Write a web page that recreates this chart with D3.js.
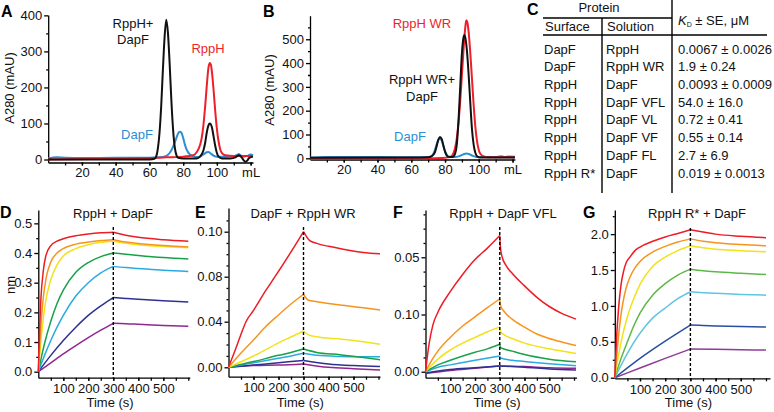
<!DOCTYPE html>
<html lang="en">
<head>
<meta charset="utf-8">
<title>RppH / DapF binding</title>
<script src="https://cdn.jsdelivr.net/npm/d3@7"></script>
<style>
  body { margin: 0; background: #fff; }
  svg { display: block; font-family: "Liberation Sans", Arial, sans-serif; }
  .axis path, .axis line { stroke: #000; stroke-width: 1.3; }
  .axis text { font: 13px "Liberation Sans", Arial, sans-serif; fill: #111; }
  .lbl { font-size: 13px; fill: #111; }
  .letter { font-size: 16px; font-weight: bold; fill: #000; }
</style>
</head>
<body>
<svg id="fig" width="774" height="412"></svg>
<script>
// ---- size exclusion traces (mL, mAU) ----
var aDapF = [[0,3],[5,6],[10,5],[20,4],[40,5],[60,5],[66,6],[70,10],[72,18],[74,35],[76,60],[77,72],[78,77],[79,74],[80,60],[81,42],[82,28],[84,14],[86,9],[88,7],[90,8],[92,14],[94,20],[95,21],[96,18],[98,11],[100,8],[105,8],[110,9],[112,13],[113,15],[114,12],[116,8],[118,10],[120,14],[121.4,12]];
var aRppH = [[0,0],[40,2],[60,4],[70,6],[80,8],[86,12],[88,20],[90,40],[91,60],[92,95],[93,145],[94,205],[95,255],[95.8,268],[96.5,262],[97,245],[98,195],[99,135],[100,85],[101,50],[102,28],[103,18],[105,12],[110,10],[121.4,10]];
var aComplex = [[0,0],[60,0],[63,2],[64,8],[65,30],[66,75],[67,150],[68,250],[69,340],[70,388],[71,350],[72,265],[73,165],[74,85],[75,35],[76,12],[77,5],[80,3],[88,3],[90,8],[92,25],[93,45],[94,75],[95,95],[95.8,100],[97,90],[98,65],[99,38],[100,18],[101,8],[103,3],[108,3],[111,6],[113,12],[115,4],[116,-3],[117,-6],[118,-3],[119,4],[121.4,8]];

var bDapF = [[0,3],[10,6],[20,5],[40,5],[60,4],[70,5],[72,9],[73,18],[74,35],[75,58],[76,76],[77,82],[78,74],[79,52],[80,30],[81,15],[82,8],[84,5],[86,5],[88,8],[90,14],[92,19],[93,20],[94,18],[96,12],[98,7],[100,6],[105,6],[110,5],[113,9],[115,6],[118,8],[121.4,7]];
var bRppHWR = [[0,-2],[70,-1],[78,1],[82,4],[84,10],[85,22],[86,45],[87,85],[88,150],[89,240],[90,350],[91,460],[92,550],[92.6,580],[93.2,572],[94,530],[95,440],[96,330],[97,220],[98,130],[99,70],[100,35],[101,18],[103,8],[106,4],[121.4,4]];
var bComplex = [[0,2],[60,3],[70,4],[72,8],[74,25],[75,50],[76,78],[77,90],[78,82],[79,55],[80,28],[81,12],[82,6],[84,5],[85,8],[86,20],[87,60],[88,160],[89,300],[90,440],[91,510],[91.5,518],[92,508],[93,450],[94,350],[95,230],[96,120],[97,55],[98,22],[99,9],[101,3],[121.4,3]];

// ---- Kd table ----
var tblSurface = ["DapF", "DapF", "RppH", "RppH", "RppH", "RppH", "RppH", "RppH R*"];
var tblSolution = ["RppH", "RppH WR", "DapF", "DapF VFL", "DapF VL", "DapF VF", "DapF FL", "DapF"];
var tblKd = ["0.0067 ± 0.0026", "1.9 ± 0.24", "0.0093 ± 0.0009", "54.0 ± 16.0", "0.72 ± 0.41", "0.55 ± 0.14", "2.7 ± 6.9", "0.019 ± 0.0013"];

// ---- sensorgrams (s, nm), highest concentration first ----
var dRed = [[0,0],[5,0.14],[10,0.24],[20,0.34],[30,0.39],[50,0.425],[75,0.44],[100,0.448],[150,0.458],[200,0.464],[250,0.468],[300,0.47],[350,0.46],[400,0.453],[500,0.445],[600,0.44]];
var dOrange = [[0,0],[10,0.15],[20,0.25],[30,0.31],[50,0.37],[75,0.4],[100,0.415],[150,0.43],[200,0.437],[250,0.442],[300,0.445],[350,0.437],[400,0.432],[500,0.425],[600,0.42]];
var dYellow = [[0,0],[10,0.1],[20,0.18],[30,0.24],[50,0.31],[75,0.36],[100,0.39],[150,0.415],[200,0.428],[250,0.436],[300,0.44],[350,0.433],[400,0.428],[500,0.422],[600,0.418]];
var dGreen = [[0,0],[10,0.04],[25,0.095],[50,0.17],[75,0.23],[100,0.275],[150,0.335],[200,0.368],[250,0.388],[300,0.4],[350,0.396],[400,0.392],[500,0.385],[600,0.38]];
var dCyan = [[0,0],[25,0.055],[50,0.105],[75,0.15],[100,0.19],[150,0.255],[200,0.3],[250,0.333],[300,0.355],[350,0.351],[400,0.348],[500,0.342],[600,0.338]];
var dBlue = [[0,0],[50,0.055],[100,0.105],[150,0.15],[200,0.19],[250,0.222],[300,0.25],[350,0.247],[400,0.244],[500,0.239],[600,0.235]];
var dPurple = [[0,0],[50,0.03],[100,0.06],[150,0.088],[200,0.115],[250,0.14],[300,0.163],[350,0.162],[400,0.16],[500,0.156],[600,0.153]];

var eRed = [[0,0],[25,0.014],[50,0.029],[70,0.04],[100,0.05],[150,0.068],[186,0.08],[250,0.091],[300,0.1],[325,0.096],[353,0.0948],[400,0.0935],[446,0.0925],[539,0.0908],[606,0.0902]];
var eOrange = [[0,0],[50,0.0125],[100,0.024],[150,0.036],[200,0.046],[250,0.0557],[300,0.0644],[320,0.059],[353,0.0578],[446,0.0548],[539,0.0524],[606,0.0504]];
var eYellow = [[0,0],[100,0.0099],[200,0.0214],[250,0.0266],[300,0.0318],[320,0.0285],[353,0.0268],[446,0.0248],[539,0.0225],[606,0.0202]];
var eGreen = [[0,0],[100,0.005],[200,0.0105],[250,0.013],[300,0.016],[353,0.013],[446,0.011],[539,0.0085],[606,0.0066]];
var eCyan = [[0,0],[100,0.004],[200,0.008],[250,0.01],[300,0.0123],[353,0.0105],[446,0.0095],[539,0.0092],[606,0.0093]];
var eBlue = [[0,0],[100,0.002],[200,0.004],[300,0.006],[400,0.003],[500,0.0015],[606,0.0006]];
var ePurple = [[0,0],[100,0.0015],[200,0.002],[300,0.003],[400,0],[500,-0.0012],[606,-0.0023]];

var fRed = [[0,0],[15,0.025],[30,0.041],[50,0.052],[100,0.07],[150,0.085],[200,0.098],[250,0.108],[300,0.119],[303,0.108],[310,0.1],[325,0.093],[350,0.086],[400,0.075],[450,0.065],[500,0.057],[550,0.051],[608,0.046]];
var fOrange = [[0,0],[25,0.01],[50,0.018],[100,0.03],[150,0.04],[200,0.048],[250,0.056],[300,0.0636],[303,0.058],[320,0.052],[350,0.046],[400,0.039],[450,0.033],[500,0.029],[550,0.026],[608,0.023]];
var fYellow = [[0,0],[50,0.011],[100,0.019],[150,0.025],[200,0.03],[250,0.035],[300,0.039],[303,0.035],[320,0.032],[350,0.029],[400,0.025],[500,0.02],[608,0.016]];
var fGreen = [[0,0],[50,0.006],[100,0.01],[200,0.017],[250,0.02],[300,0.024],[303,0.021],[350,0.018],[400,0.015],[500,0.011],[608,0.0087]];
var fCyan = [[0,0],[50,0.004],[100,0.006],[200,0.01],[300,0.0137],[303,0.012],[350,0.01],[400,0.009],[500,0.007],[608,0.0052]];
var fBlue = [[0,-0.001],[100,0.002],[200,0.0035],[300,0.005],[400,0.004],[500,0.0025],[608,0.0015]];
var fPurple = [[0,-0.0015],[100,0.001],[200,0.003],[300,0.005],[400,0.0045],[500,0.0035],[608,0.003]];

var gRed = [[0,0],[7,0.55],[14,0.92],[25,1.3],[34,1.47],[45,1.6],[60,1.68],[80,1.77],[100,1.82],[150,1.9],[200,1.96],[250,2.01],[300,2.06],[350,2.03],[400,2.0],[500,1.97],[600,1.95]];
var gOrange = [[0,0],[10,0.4],[20,0.75],[30,1.0],[45,1.25],[60,1.4],[80,1.53],[100,1.62],[150,1.75],[200,1.83],[250,1.89],[300,1.934],[350,1.9],[400,1.88],[500,1.855],[600,1.837]];
var gYellow = [[0,0],[10,0.22],[25,0.5],[50,0.85],[75,1.1],[100,1.3],[150,1.55],[200,1.68],[250,1.77],[300,1.837],[350,1.81],[400,1.79],[500,1.77],[600,1.753]];
var gGreen = [[0,0],[25,0.27],[50,0.5],[75,0.72],[100,0.9],[150,1.15],[200,1.31],[250,1.43],[300,1.512],[350,1.49],[400,1.475],[500,1.455],[600,1.438]];
var gCyan = [[0,0],[50,0.34],[100,0.62],[150,0.83],[200,0.97],[250,1.1],[300,1.197],[350,1.185],[400,1.175],[500,1.16],[600,1.15]];
var gBlue = [[0,0],[100,0.27],[200,0.51],[300,0.733],[350,0.728],[400,0.722],[500,0.712],[600,0.705]];
var gPurple = [[0,0],[100,0.135],[200,0.27],[300,0.399],[400,0.395],[500,0.39],[600,0.385]];

// tick labels
var secXTicks = [20, 40, 60, 80, 100, 120];
var aYTicks = [0, 100, 200, 300, 400];
var bYTicks = [0, 100, 200, 300, 400, 500];
var timeTicks = [100, 200, 300, 400, 500];
var dYTicks = [0, 0.1, 0.2, 0.3, 0.4, 0.5];
var eYTicks = [0, 0.04, 0.08, 0.10];
var fYTicks = [0, 0.05, 0.10];
var fYTickLabels = ["0.00", "0.10", "0.05"];   // as printed on the figure
var gYTicks = [0, 0.5, 1.0, 1.5, 2.0];

var secColors = { dapf: "#2b8fd2", rpph: "#ee1f2b", complex: "#111" };
var rainbowD = ["#ee1c25", "#f7941d", "#f2e21a", "#17a24a", "#29abe2", "#2e3192", "#92278f"];
var rainbowG = ["#ee1c25", "#f7941d", "#f2e21a", "#5cb946", "#5fc6e0", "#2b4ea2", "#8e3b9a"];

var svg = d3.select("#fig");

function letter(t, x, y) {
    svg.append("text").attr("class", "letter").attr("x", x).attr("y", y).text(t);
}
function label(t, x, y, color, anchor) {
    return svg.append("text").attr("class", "lbl").attr("x", x).attr("y", y)
        .attr("text-anchor", anchor || "middle").style("fill", color || "#111").text(t);
}

function drawAxes(x, y, o) {
    var x0 = x.range()[0], yb = y.range()[0];
    svg.append("g").attr("class", "axis").attr("transform", "translate(0," + yb + ")")
        .call(d3.axisBottom(x).tickValues(o.xMinor).tickSize(3).tickSizeOuter(0).tickFormat(""));
    svg.append("g").attr("class", "axis").attr("transform", "translate(0," + yb + ")")
        .call(d3.axisBottom(x).tickValues(o.xTicks).tickSize(3).tickSizeOuter(0).tickPadding(o.xPad)
            .tickFormat(o.xFmt))
        .select(".domain").remove();
    svg.append("g").attr("class", "axis").attr("transform", "translate(" + x0 + ",0)")
        .call(d3.axisLeft(y).tickValues(o.yMinor).tickSize(2).tickSizeOuter(0).tickFormat(""));
    svg.append("g").attr("class", "axis").attr("transform", "translate(" + x0 + ",0)")
        .call(d3.axisLeft(y).tickValues(o.yTicks).tickSize(4).tickSizeOuter(0).tickPadding(2)
            .tickFormat(o.yFmt))
        .select(".domain").remove();
}

function trace(x, y, pts, color, w) {
    svg.append("path").datum(pts)
        .attr("fill", "none").attr("stroke", color).attr("stroke-width", w)
        .attr("stroke-linejoin", "round")
        .attr("d", d3.line().x(d => x(d[0])).y(d => y(d[1])).curve(d3.curveMonotoneX));
}

// ================= A =================
var xA = d3.scaleLinear().domain([0, 121.4]).range([48.2, 253]);
var yA = d3.scaleLinear().domain([-8.3, 401]).range([162.5, 15]);
drawAxes(xA, yA, {
    xTicks: secXTicks, xMinor: d3.range(10, 121, 10), xPad: 2,
    xFmt: d => d === 120 ? "mL" : d,
    yTicks: aYTicks, yMinor: d3.range(50, 400, 100), yFmt: d => d
});
trace(xA, yA, aDapF, secColors.dapf, 2);
trace(xA, yA, aRppH, secColors.rpph, 2);
trace(xA, yA, aComplex, secColors.complex, 2);
letter("A", 1, 17);
label("A280 (mAU)", 0, 0).attr("transform", "translate(14,88) rotate(-90)");
label("RppH+", 133, 28);
label("DapF", 133, 44);
label("RppH", 208, 53, secColors.rpph);
label("DapF", 137, 139, secColors.dapf);

// ================= B =================
var xB = d3.scaleLinear().domain([0, 121.4]).range([310, 514.9]);
var yB = d3.scaleLinear().domain([-5, 599]).range([159.5, 15.7]);
drawAxes(xB, yB, {
    xTicks: secXTicks, xMinor: d3.range(10, 121, 10), xPad: 2,
    xFmt: d => d === 120 ? "mL" : d,
    yTicks: bYTicks, yMinor: d3.range(50, 600, 100), yFmt: d => d
});
trace(xB, yB, bDapF, secColors.dapf, 2);
trace(xB, yB, bRppHWR, secColors.rpph, 2);
trace(xB, yB, bComplex, secColors.complex, 2);
letter("B", 263, 17);
label("A280 (mAU)", 0, 0).attr("transform", "translate(274,90) rotate(-90)");
label("RppH WR", 422, 28, secColors.rpph);
label("RppH WR+", 422, 84);
label("DapF", 422, 101);
label("DapF", 410, 141, secColors.dapf);

// ================= C (table) =================
letter("C", 527, 15);
var rowY = d3.scaleLinear().domain([0, 7]).range([53.5, 177.5]);
var tbl = svg.append("g");
tbl.append("line").attr("x1", 543).attr("x2", 672).attr("y1", 18).attr("y2", 18);
tbl.append("line").attr("x1", 543).attr("x2", 767).attr("y1", 35).attr("y2", 35);
tbl.append("line").attr("x1", 672).attr("x2", 672).attr("y1", 0).attr("y2", 193);
tbl.append("line").attr("x1", 602).attr("x2", 602).attr("y1", 18).attr("y2", 193);
tbl.selectAll("line").attr("stroke", "#000").attr("stroke-width", 1.4);
label("Protein", 599, 12);
label("Surface", 545, 31, null, "start");
label("Solution", 607, 31, null, "start");
var kdHead = label("", 678, 25, null, "start");
kdHead.append("tspan").style("font-style", "italic").text("K");
kdHead.append("tspan").attr("font-size", 7).attr("dy", 2).text("D");
kdHead.append("tspan").attr("dy", -2).text(" ± SE, μM");
tblSurface.forEach(function (s, i) {
    label(s, 544, rowY(i), null, "start");
    label(tblSolution[i], 606, rowY(i), null, "start");
    label(tblKd[i], 678, rowY(i), null, "start");
});

// ================= D - G =================
function sensorPanel(p) {
    drawAxes(p.x, p.y, {
        xTicks: timeTicks, xMinor: d3.range(50, 601, 50), xPad: 3,
        xFmt: d => d,
        yTicks: p.yTicks, yMinor: p.yMinor, yFmt: p.yFmt
    });
    p.series.forEach(function (s, i) {
        // association and dissociation drawn as separate pieces so the kink at 300 s stays sharp
        trace(p.x, p.y, s.filter(d => d[0] <= 300), p.colors[i], 1.5);
        trace(p.x, p.y, s.filter(d => d[0] >= 300), p.colors[i], 1.5);
    });
    svg.append("line")
        .attr("x1", p.x(300)).attr("x2", p.x(300))
        .attr("y1", p.dashTop).attr("y2", p.y.range()[0])
        .attr("stroke", "#000").attr("stroke-width", 1.4).attr("stroke-dasharray", "3,2");
    var mid = (p.x.range()[0] + p.x.range()[1]) / 2;
    label(p.title, p.titleX, 218);
    label("Time (s)", mid - 4, 407);
    letter(p.letter, p.letterX, 218);
}

var order = s => s.slice().reverse();

sensorPanel({
    letter: "D", letterX: 0, title: "RppH + DapF", titleX: 113,
    x: d3.scaleLinear().domain([0, 606]).range([38.3, 189.8]),
    y: d3.scaleLinear().domain([-0.0202, 0.545]).range([377.7, 210]),
    yTicks: dYTicks, yMinor: d3.range(0.05, 0.5, 0.1), yFmt: d3.format(".1f"),
    series: order([dRed, dOrange, dYellow, dGreen, dCyan, dBlue, dPurple]),
    colors: order(rainbowD), dashTop: 227
});
label("nm", 0, 0).attr("transform", "translate(15,285) rotate(-90)");

sensorPanel({
    letter: "E", letterX: 195, title: "DapF + RppH WR", titleX: 303,
    x: d3.scaleLinear().domain([0, 606]).range([228.5, 380]),
    // the printed tick labels are unevenly spaced, so the scale is piecewise
    y: d3.scaleLinear().domain([-0.0082, 0, 0.04, 0.08, 0.10, 0.1105])
        .range([376.7, 367.3, 321.7, 276.7, 231.7, 208]),
    yTicks: eYTicks, yMinor: [0.01, 0.02, 0.03, 0.05, 0.06, 0.07, 0.085, 0.09, 0.095, 0.105],
    yFmt: d3.format(".2f"),
    series: order([eRed, eOrange, eYellow, eGreen, eCyan, eBlue, ePurple]),
    colors: order(rainbowD), dashTop: 227
});

sensorPanel({
    letter: "F", letterX: 393, title: "RppH + DapF VFL", titleX: 503,
    x: d3.scaleLinear().domain([0, 610]).range([425.5, 576.5]),
    y: d3.scaleLinear().domain([-0.0052, 0.1413]).range([377.7, 210]),
    yTicks: fYTicks, yMinor: [0.0125, 0.025, 0.0375, 0.0625, 0.075, 0.0875, 0.1125, 0.125, 0.1375],
    yFmt: (d, i) => fYTickLabels[i],
    series: order([fRed, fOrange, fYellow, fGreen, fCyan, fBlue, fPurple]),
    colors: order(rainbowD), dashTop: 227
});

sensorPanel({
    letter: "G", letterX: 583, title: "RppH R* + DapF", titleX: 697,
    x: d3.scaleLinear().domain([0, 616]).range([614.8, 770]),
    y: d3.scaleLinear().domain([-0.008, 2.336]).range([378.3, 210]),
    yTicks: gYTicks, yMinor: d3.range(0.25, 2.3, 0.5), yFmt: d3.format(".1f"),
    series: order([gRed, gOrange, gYellow, gGreen, gCyan, gBlue, gPurple]),
    colors: order(rainbowG), dashTop: 228
});
</script>
</body>
</html>
